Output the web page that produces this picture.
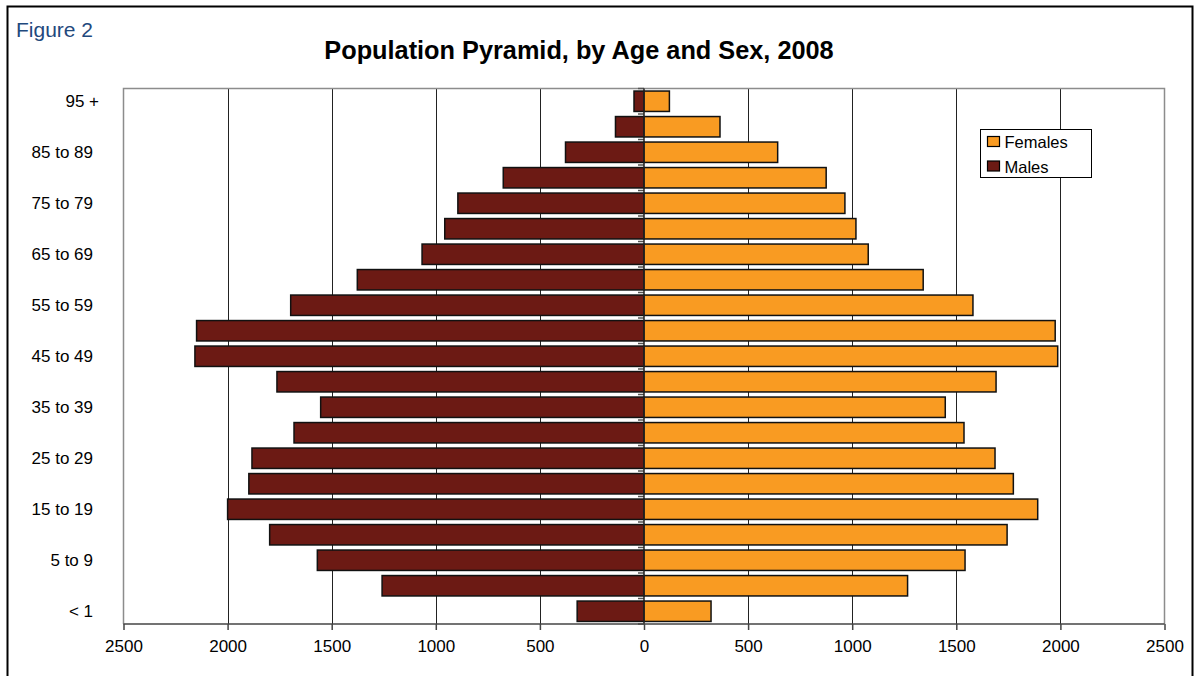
<!DOCTYPE html>
<html>
<head>
<meta charset="utf-8">
<script src="https://cdn.jsdelivr.net/npm/d3@7"></script>
<style>
  body { margin: 0; background: #fff; }
  svg { display: block; font-family: "Liberation Sans", Arial, sans-serif; }
</style>
</head>
<body>
<div id="chart"></div>
<script>
// age groups, youngest first (bottom of the pyramid)
var ageGroups = [
  "< 1", "1 to 4", "5 to 9", "10 to 14", "15 to 19", "20 to 24", "25 to 29",
  "30 to 34", "35 to 39", "40 to 44", "45 to 49", "50 to 54", "55 to 59",
  "60 to 64", "65 to 69", "70 to 74", "75 to 79", "80 to 84", "85 to 89",
  "90 to 94", "95 +",
];
var males = [
  321, 1258, 1569, 1798, 2000, 1898, 1883, 1681, 1553, 1763, 2157, 2149,
  1697, 1377, 1066, 957, 894, 676, 377, 137, 48,
];
var females = [
  322, 1266, 1542, 1744, 1891, 1774, 1686, 1537, 1447, 1691, 1987, 1975,
  1580, 1341, 1077, 1018, 965, 875, 642, 365, 122,
];
var xTicks = [-2500, -2000, -1500, -1000, -500, 0, 500, 1000, 1500, 2000, 2500];
var legendItems = ["Females", "Males"];

var colors = { Females: "#F99B22", Males: "#6C1A14" };

var width = 1196,
  height = 676;
var plot = { left: 123.5, right: 1164.5, top: 88.5, bottom: 624 };

var svg = d3
  .select("#chart")
  .append("svg")
  .attr("width", width)
  .attr("height", height);

// outer frame
svg
  .append("rect")
  .attr("x", 7.5)
  .attr("y", 6.5)
  .attr("width", 1185)
  .attr("height", 700)
  .attr("fill", "none")
  .attr("stroke", "#000")
  .attr("stroke-width", 2);

svg
  .append("text")
  .attr("x", 16)
  .attr("y", 37)
  .attr("font-size", 21)
  .attr("fill", "#1F497D")
  .text("Figure 2");

svg
  .append("text")
  .attr("x", 579)
  .attr("y", 59)
  .attr("text-anchor", "middle")
  .attr("font-size", 25.3)
  .attr("font-weight", "bold")
  .text("Population Pyramid, by Age and Sex, 2008");

var x = d3
  .scaleLinear()
  .domain([-2500, 2500])
  .range([plot.left, plot.right]);

var y = d3
  .scaleBand()
  .domain(ageGroups.slice().reverse())
  .range([plot.top, plot.bottom])
  .paddingInner(0.2)
  .paddingOuter(0.1);

var data = ageGroups.map((d, i) => ({ age: d, male: males[i], female: females[i] }));

// gridlines
svg
  .append("g")
  .selectAll("line")
  .data(xTicks.filter((d) => d !== 0 && Math.abs(d) !== 2500))
  .enter()
  .append("line")
  .attr("x1", (d) => Math.round(x(d)) + 0.5)
  .attr("x2", (d) => Math.round(x(d)) + 0.5)
  .attr("y1", plot.top)
  .attr("y2", plot.bottom)
  .attr("stroke", "#222")
  .attr("stroke-width", 1);

// plot border (left, top, right)
svg
  .append("path")
  .attr(
    "d",
    `M${plot.left},${plot.bottom}V${plot.top}H${plot.right}V${plot.bottom}`
  )
  .attr("fill", "none")
  .attr("stroke", "#8c8c8c")
  .attr("stroke-width", 1.5);

// bars
var bars = svg.append("g").attr("stroke", "#111").attr("stroke-width", 1.5);
bars
  .selectAll(".male")
  .data(data)
  .enter()
  .append("rect")
  .attr("class", "male")
  .attr("x", (d) => x(-d.male))
  .attr("y", (d) => y(d.age))
  .attr("width", (d) => x(0) - x(-d.male))
  .attr("height", y.bandwidth())
  .attr("fill", colors.Males);
bars
  .selectAll(".female")
  .data(data)
  .enter()
  .append("rect")
  .attr("class", "female")
  .attr("x", x(0))
  .attr("y", (d) => y(d.age))
  .attr("width", (d) => x(d.female) - x(0))
  .attr("height", y.bandwidth())
  .attr("fill", colors.Females);

// category axis at zero, tick marks between groups
var step = y.step();
var boundaries = d3.range(ageGroups.length + 1).map((i) => plot.top + i * step);
svg
  .append("g")
  .selectAll("line")
  .data(boundaries)
  .enter()
  .append("line")
  .attr("x1", x(0) - 6)
  .attr("x2", x(0))
  .attr("y1", (d) => d)
  .attr("y2", (d) => d)
  .attr("stroke", "#555")
  .attr("stroke-width", 1.5);
svg
  .append("line")
  .attr("x1", x(0))
  .attr("x2", x(0))
  .attr("y1", plot.top)
  .attr("y2", plot.bottom)
  .attr("stroke", "#222")
  .attr("stroke-width", 1.5);

// age labels, every other group
var yAxis = d3
  .axisLeft(y)
  .tickValues(ageGroups.filter((d, i) => i % 2 === 0))
  .tickSize(0)
  .tickPadding(0);
var yGroup = svg
  .append("g")
  .attr("transform", "translate(93,0)")
  .call(yAxis);
yGroup.select(".domain").remove();
yGroup
  .selectAll("text")
  .attr("font-size", 17)
  .attr("font-family", "Liberation Sans, Arial, sans-serif")
  .attr("fill", "#000")
  .attr("dx", (d) => (d === "95 +" ? 6 : 0));

// value axis at the bottom
var xAxis = d3
  .axisBottom(x)
  .tickValues(xTicks)
  .tickSize(6)
  .tickPadding(10)
  .tickFormat((d) => Math.abs(d));
var xGroup = svg
  .append("g")
  .attr("transform", `translate(0,${plot.bottom})`)
  .call(xAxis);
xGroup.select(".domain").attr("stroke", "#444").attr("stroke-width", 1.5)
  .attr("d", `M${plot.left},0H${plot.right}`);
xGroup.selectAll(".tick line").attr("stroke", "#444").attr("stroke-width", 1.5);
xGroup
  .selectAll("text")
  .attr("font-size", 17)
  .attr("font-family", "Liberation Sans, Arial, sans-serif")
  .attr("fill", "#000");

// legend
var legend = svg.append("g").attr("transform", "translate(980.5,129.5)");
legend
  .append("rect")
  .attr("width", 111)
  .attr("height", 48)
  .attr("fill", "#fff")
  .attr("stroke", "#000")
  .attr("stroke-width", 1);
var li = legend
  .selectAll(".item")
  .data(legendItems)
  .enter()
  .append("g")
  .attr("class", "item")
  .attr("transform", (d, i) => `translate(7,${7 + i * 24.5})`);
li.append("rect")
  .attr("width", 12)
  .attr("height", 10)
  .attr("fill", (d) => colors[d])
  .attr("stroke", "#000")
  .attr("stroke-width", 1.2);
li.append("text")
  .attr("x", 17)
  .attr("y", 11.5)
  .attr("font-size", 16.5)
  .text((d) => d);
</script>
</body>
</html>
